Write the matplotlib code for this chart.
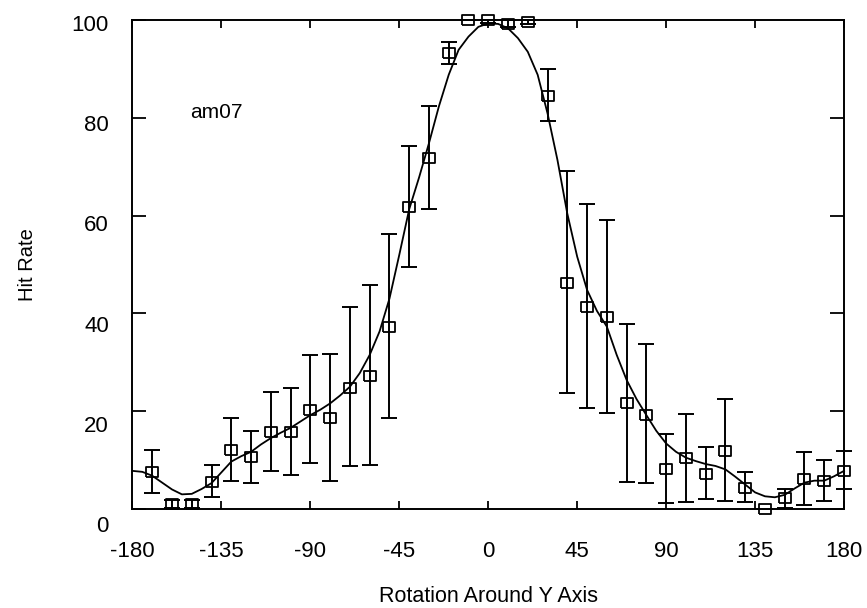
import matplotlib.pyplot as plt
from matplotlib.transforms import ScaledTranslation
import numpy as np

plt.rcParams['font.family'] = ['Liberation Sans', 'DejaVu Sans']
plt.rcParams['axes.unicode_minus'] = False

# measured points (rotation in degrees, hit rate in %)
angles = [-170, -160, -150, -140, -130, -120, -110, -100, -90, -80, -70, -60,
          -50, -40, -30, -20, -10, 0, 10, 20, 30, 40, 50, 60, 70, 80, 90,
          100, 110, 120, 130, 140, 150, 160, 170, 180]
hit_rate = [7.6, 1.0, 1.0, 5.6, 12.1, 10.6, 15.7, 15.7, 20.2, 18.6, 24.8, 27.3,
            37.3, 61.8, 71.7, 93.2, 100.0, 100.0, 99.2, 99.6, 84.5, 46.3, 41.4, 39.3,
            21.6, 19.3, 8.1, 10.4, 7.2, 11.9, 4.4, 0.0, 2.3, 6.1, 5.7, 7.8]
err_top = [12.1, 1.8, 1.8, 9.0, 18.7, 16.0, 23.9, 24.7, 31.4, 31.7, 41.4, 45.8,
           56.2, 74.3, 82.4, 95.4, 100.0, 100.0, 99.9, 100.0, 90.0, 69.2, 62.4, 59.1,
           37.8, 33.7, 15.3, 19.4, 12.7, 22.4, 7.5, 0.0, 4.0, 11.7, 10.0, 11.9]
err_bottom = [3.2, 0.3, 0.3, 2.4, 5.8, 5.4, 7.8, 7.0, 9.4, 5.7, 8.7, 8.9,
              18.7, 49.4, 61.3, 91.1, 100.0, 99.3, 98.5, 99.2, 79.4, 23.7, 20.6, 19.7,
              5.6, 5.3, 1.2, 1.4, 2.0, 1.7, 1.5, 0.0, 0.3, 0.8, 1.7, 4.1]

# smooth fit curve, every 5 degrees
fit_angles = list(range(-180, 181, 5))
fit_rate = [7.8, 7.6, 6.8, 5.4, 4.0, 3.0, 3.1, 4.1, 5.3, 7.5, 9.7, 10.8, 11.7,
            13.2, 14.5, 15.6, 16.6, 17.9, 19.2, 20.3, 21.6, 23.2, 25.0, 27.8,
            31.5, 36.3, 43.0, 52.0, 61.3, 67.8, 74.8, 82.3, 88.8, 93.9, 96.6,
            98.6, 99.3, 99.2, 98.3, 96.3, 93.5, 88.8, 80.9, 71.4, 60.4, 51.6,
            44.8, 40.5, 37.3, 31.5, 26.4, 22.5, 19.2, 16.0, 13.4, 11.7, 10.5,
            9.8, 9.2, 8.8, 8.1, 6.6, 5.0, 3.4, 2.6, 2.4, 2.9, 4.2, 5.4, 5.8,
            5.8, 6.7, 7.8]

x_ticks = [-180, -135, -90, -45, 0, 45, 90, 135, 180]
y_ticks = [0, 20, 40, 60, 80, 100]

hit_rate = np.array(hit_rate)
yerr = [hit_rate - np.array(err_bottom), np.array(err_top) - hit_rate]

fig = plt.figure(figsize=(8.67, 6.08), dpi=100)
ax = fig.add_axes([0.1528, 0.1628, 0.8207, 0.8043])

ax.plot(fit_angles, fit_rate, color='black', lw=1.3, clip_on=False)
ax.errorbar(angles, hit_rate, yerr=yerr, fmt='none', ecolor='black',
            elinewidth=1.4, capsize=6, capthick=1.4, clip_on=False)
box = [(-1, -0.8), (1, -0.8), (1, 0.8), (-1, 0.8), (-1, -0.8)]
ax.plot(angles, hit_rate, ls='none', marker=box, ms=8.5, mfc='none',
        mec='black', mew=1.3, clip_on=False)

ax.text(-151, 81, 'am07', fontsize=15, va='center', ha='left')

ax.set_xlim(-180, 180)
ax.set_ylim(0, 100)
ax.set_xticks(x_ticks)
ax.set_yticks(y_ticks)
ax.yaxis.get_major_ticks()
ax.tick_params(axis='x', direction='in', length=6, width=1.3, top=True,
               labelsize=16, pad=23)
ax.tick_params(axis='y', direction='in', length=10, width=1.3, right=True,
               labelsize=16, pad=17)
for s in ax.spines.values():
    s.set_linewidth(1.4)

# the y labels sit a little below their ticks, more so toward the bottom
for t, v in zip(ax.yaxis.get_major_ticks(), y_ticks):
    off = (3 + (100 - v) * 0.12) / 100
    t.label1.set_transform(t.label1.get_transform()
                           + ScaledTranslation(0, -off, fig.dpi_scale_trans))

ax.set_xlabel('Rotation Around Y Axis', fontsize=15.5, labelpad=17.5)
ax.set_ylabel('Hit Rate', fontsize=14.5, labelpad=25)

fig.savefig('out.png', dpi=100)
